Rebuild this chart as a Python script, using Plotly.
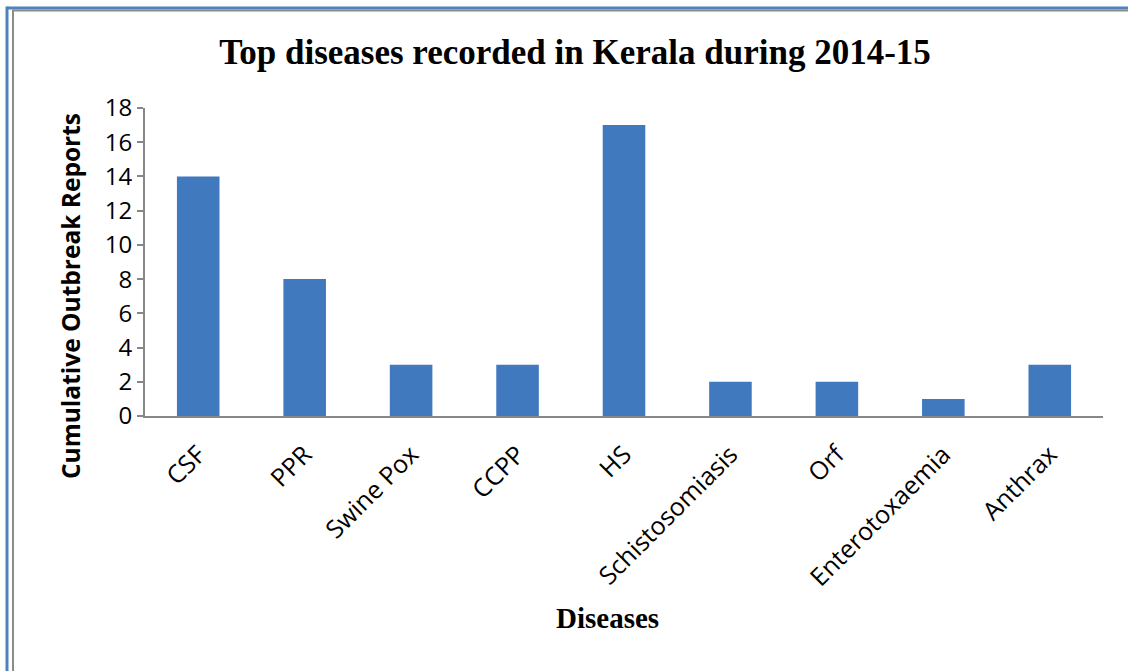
import plotly.graph_objects as go

diseases = ["CSF", "PPR", "Swine Pox", "CCPP", "HS", "Schistosomiasis", "Orf", "Enterotoxaemia", "Anthrax"]
reports = [14, 8, 3, 3, 17, 2, 2, 1, 3]
y_ticks = [0, 2, 4, 6, 8, 10, 12, 14, 16, 18]

W, H = 1128, 671
L, R, T, B = 145, 25, 108, 255
pw, ph = W - L - R, H - T - B

def px(x):
    return (x - L) / pw

def py(y):
    return 1 - (y - T) / ph

fig = go.Figure(go.Bar(x=diseases, y=reports, marker=dict(color="#4179BE", line=dict(width=0))))

fig.update_layout(
    width=W, height=H,
    margin=dict(l=L, r=R, t=T, b=B),
    paper_bgcolor="white", plot_bgcolor="white",
    bargap=0.6,
    showlegend=False,
    title=dict(text="<b>Top diseases recorded in Kerala during 2014-15</b>",
               x=575 / W, xanchor="center", y=1 - 52 / H, yanchor="middle",
               font=dict(family="Liberation Serif", size=35, color="black")),
    font=dict(family="Open Sans", color="black"),
)
fig.update_xaxes(
    showline=True, linecolor="#878787", linewidth=2,
    tickangle=-45, tickfont=dict(family="Open Sans", size=25, color="black"),
    ticks="", showgrid=False, ticklabelstandoff=12,
)
fig.update_yaxes(
    range=[0, 18], tickvals=y_ticks, showline=True, linecolor="#878787", linewidth=2,
    ticks="outside", ticklen=6, tickcolor="#878787", tickwidth=2,
    tickfont=dict(family="Open Sans", size=24, color="black"), showgrid=False,
)

fig.add_annotation(text="<b>Diseases</b>", xref="paper", yref="paper",
                   x=px(607), y=py(618), xanchor="center", yanchor="middle", showarrow=False,
                   font=dict(family="Liberation Serif", size=29, color="black"))
fig.add_annotation(text="<b>Cumulative Outbreak Reports</b>", xref="paper", yref="paper",
                   x=px(70), y=py(296), xanchor="center", yanchor="middle", showarrow=False,
                   textangle=-90, font=dict(family="Open Sans", size=24.5, color="black"))

# border lines (outer blue, inner gray) at top and left
shapes = [
    dict(type="line", xref="paper", yref="paper", x0=px(7), x1=px(W), y0=py(8), y1=py(8), line=dict(color="#4F81BD", width=3)),
    dict(type="line", xref="paper", yref="paper", x0=px(13), x1=px(W), y0=py(10.5), y1=py(10.5), line=dict(color="#8C8C8C", width=2)),
    dict(type="line", xref="paper", yref="paper", x0=px(7), x1=px(7), y0=py(6.5), y1=py(H), line=dict(color="#4F81BD", width=3)),
    dict(type="line", xref="paper", yref="paper", x0=px(13), x1=px(13), y0=py(9.5), y1=py(H), line=dict(color="#8C8C8C", width=2)),
]
fig.update_layout(shapes=shapes)

fig.write_html("out.html", config={"displayModeBar": False},
               post_script="document.body.style.margin='0';")
